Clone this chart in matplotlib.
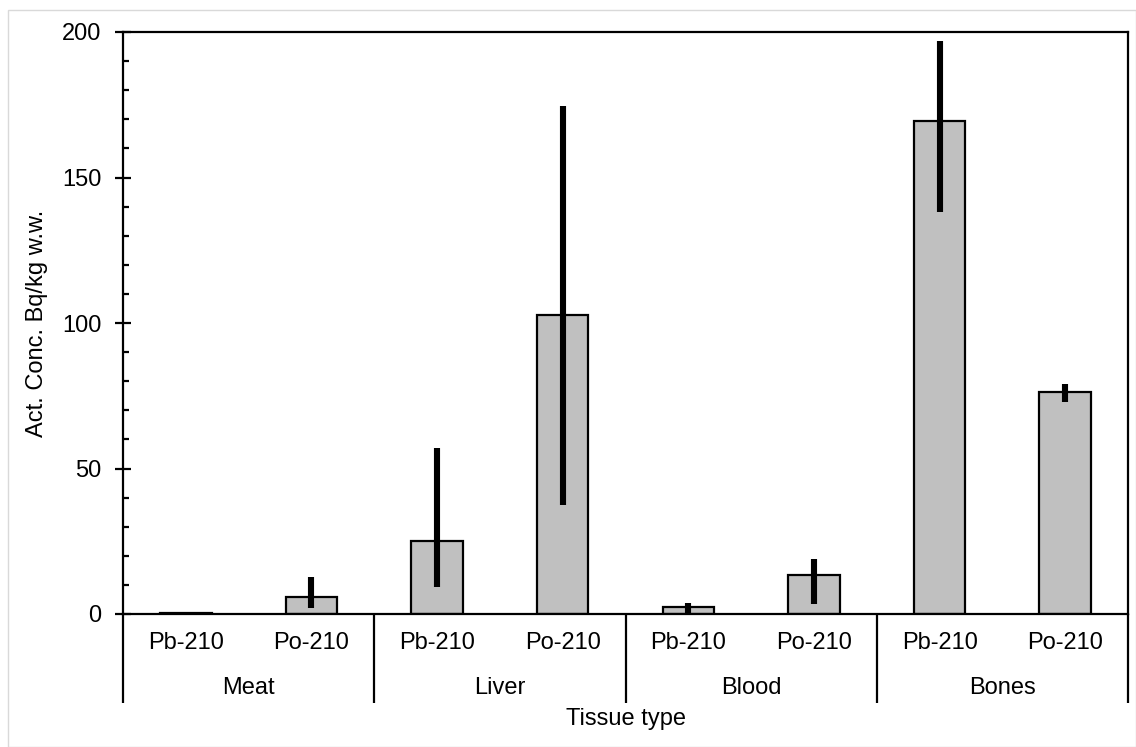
import matplotlib
matplotlib.use("Agg")
import matplotlib.pyplot as plt
import matplotlib.transforms as mtransforms
from matplotlib.patches import Rectangle
import numpy as np

plt.rcParams['font.family'] = ['Liberation Sans', 'DejaVu Sans']

tissues = ["Meat", "Liver", "Blood", "Bones"]
isotopes = ["Pb-210", "Po-210"]
values = [0.4, 5.8, 25.2, 102.8, 2.3, 13.3, 169.5, 76.3]
err_low = [0.4, 2.1, 9.3, 37.6, 0.5, 3.4, 138.0, 72.8]
err_high = [0.8, 12.8, 57.0, 174.5, 3.7, 18.9, 197.0, 79.2]
yticks = [0, 50, 100, 150, 200]

FS = 17

fig = plt.figure(figsize=(11.36, 7.47), dpi=100)
ax = fig.add_axes([123/1136, 1 - 614/747, (1128 - 123)/1136, (614 - 32)/747])

x = np.arange(len(values))
vals = np.array(values)
lo = vals - np.array(err_low)
hi = np.array(err_high) - vals
ax.bar(x, vals, width=0.41, color="#C0C0C0", edgecolor="black", linewidth=1.6, zorder=2)
ax.errorbar(x, vals, yerr=[lo, hi], fmt="none", ecolor="black", elinewidth=4.4,
            capsize=0, zorder=3)

ax.set_xlim(-0.5, len(values) - 0.5)
ax.set_ylim(0, 200)
ax.set_yticks(yticks)
ax.set_yticks(np.arange(0, 201, 10), minor=True)
ax.tick_params(axis="y", which="major", direction="inout", length=11, width=1.6,
               labelsize=FS, pad=10)
ax.tick_params(axis="y", which="minor", direction="in", length=4, width=1.6)
ax.set_xticks([])
for s in ax.spines.values():
    s.set_linewidth(1.6)

ax.set_ylabel("Act. Conc. Bq/kg w.w.", fontsize=FS, labelpad=10)

# multi-level category axis
trans = mtransforms.blended_transform_factory(ax.transData, ax.transAxes)
depth = -(703 - 614) / (614 - 32)
for b in np.arange(-0.5, len(values), 2):
    ax.plot([b, b], [0, depth], transform=trans, color="black", lw=1.6,
            clip_on=False, solid_capstyle="butt")
for i in range(len(values)):
    ax.text(i, -(643 - 614) / 582, isotopes[i % 2], transform=trans,
            ha="center", va="center", fontsize=FS)
for j, t in enumerate(tissues):
    ax.text(2 * j + 0.5, -(688 - 614) / 582, t, transform=trans,
            ha="center", va="center", fontsize=FS)
ax.text(0.5, -(719 - 614) / 582, "Tissue type", transform=ax.transAxes,
        ha="center", va="center", fontsize=FS)

# light outer chart border
fig.patches.append(Rectangle((8/1136, 0), 1 - 8/1136, 1 - 10/747,
                             transform=fig.transFigure, fill=False,
                             edgecolor="#D9D9D9", linewidth=1.0))

fig.savefig("out.png", dpi=100)
